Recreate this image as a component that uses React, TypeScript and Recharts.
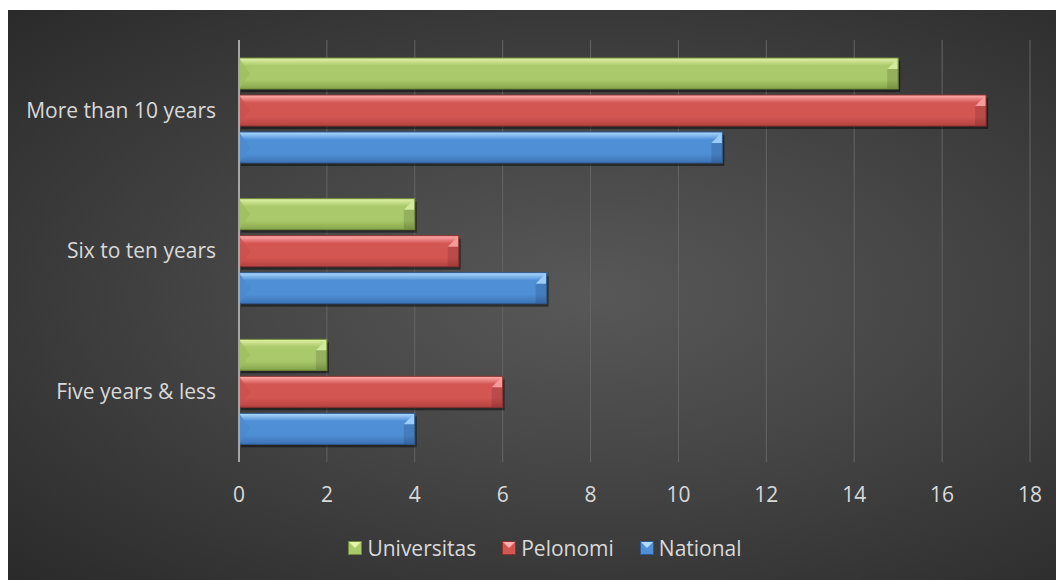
import React from 'react';
import { BarChart, Bar, XAxis, YAxis, CartesianGrid, Legend } from 'recharts';

const categories = ['More than 10 years', 'Six to ten years', 'Five years & less'];
const universitas = [15, 4, 2];
const pelonomi = [17, 5, 6];
const national = [11, 7, 4];
const xTicks = [0, 2, 4, 6, 8, 10, 12, 14, 16, 18];

const data = categories.map((name, i) => ({
  name,
  universitas: universitas[i],
  pelonomi: pelonomi[i],
  national: national[i],
}));

const FONT = '"Open Sans", sans-serif';
const TEXT = '#d9d9d9';

const palette: Record<string, { top: string; mid: string; bot: string; edge: string; left: string; rtop: string }> = {
  universitas: { top: '#e4f3a8', mid: '#a9c96a', bot: '#86a54a', edge: '#6f8a3a', left: '#9fbe60', rtop: '#d2e89a' },
  pelonomi: { top: '#ffb0ae', mid: '#d45653', bot: '#b54340', edge: '#8e3230', left: '#ca514e', rtop: '#f59b99' },
  national: { top: '#b0dcff', mid: '#4f8fd6', bot: '#3d72b5', edge: '#2f5a90', left: '#4c88cc', rtop: '#9ccdf8' },
};

// bar with a simple bevel look, drawn from the coordinates recharts hands in
const BevelBar = (props: any) => {
  const { x, y, width, height, colorKey } = props;
  if (!width || width <= 0) return null;
  const c = palette[colorKey];
  const b = Math.min(11, width / 2);
  const id = `g-${colorKey}`;
  return (
    <g>
      <rect x={x + 2} y={y + 3} width={width} height={height} fill="#000" opacity={0.45} />
      <rect x={x} y={y} width={width} height={height} fill={`url(#${id})`} />
      <polygon points={`${x},${y} ${x + b},${y + height / 2} ${x},${y + height}`} fill={c.left} opacity={0.8} />
      <polygon points={`${x + width},${y} ${x + width - b},${y + b} ${x + width},${y + b}`} fill={c.rtop} />
      <polygon points={`${x + width},${y + b} ${x + width - b},${y + b} ${x + width - b},${y + height} ${x + width},${y + height}`} fill="#000" opacity={0.12} />
      <rect x={x} y={y} width={width} height={height} fill="none" stroke={c.edge} strokeWidth={1} />
    </g>
  );
};

const legendItems = [
  { key: 'universitas', label: 'Universitas' },
  { key: 'pelonomi', label: 'Pelonomi' },
  { key: 'national', label: 'National' },
];

const LegendContent = () => (
  <div style={{ display: 'flex', justifyContent: 'center', alignItems: 'center', height: 30, paddingLeft: 52, fontFamily: FONT, fontSize: 21, color: TEXT }}>
    {legendItems.map((it, i) => {
      const c = palette[it.key];
      return (
        <div key={it.key} style={{ display: 'flex', alignItems: 'center', marginRight: i < legendItems.length - 1 ? 26 : 0 }}>
          <svg width={14} height={14} style={{ marginRight: 5 }}>
            <rect x={0.5} y={0.5} width={13} height={13} fill={c.mid} stroke={c.edge} />
            <polygon points="1,1 13,1 7,7" fill={c.top} />
          </svg>
          <span>{it.label}</span>
        </div>
      );
    })}
  </div>
);

export default function App() {
  return (
    <div
      style={{
        marginTop: 2,
        width: 1056,
        height: 570,
        background: 'radial-gradient(ellipse at 55% 50%, #585858 0%, #474747 40%, #2a2a2a 100%)',
      }}
    >
      <BarChart
        width={1056}
        height={570}
        data={data}
        layout="vertical"
        margin={{ top: 30, right: 34, left: 0, bottom: 17 }}
        barSize={31}
        barGap={6}
        style={{ fontFamily: FONT }}
      >
        <defs>
          {Object.keys(palette).map((k) => (
            <linearGradient key={k} id={`g-${k}`} x1="0" y1="0" x2="0" y2="1">
              <stop offset="0%" stopColor={palette[k].top} />
              <stop offset="25%" stopColor={palette[k].mid} />
              <stop offset="70%" stopColor={palette[k].mid} />
              <stop offset="100%" stopColor={palette[k].bot} />
            </linearGradient>
          ))}
        </defs>
        <CartesianGrid horizontal={false} stroke="#646464" strokeWidth={1} />
        <XAxis
          type="number"
          domain={[0, 18]}
          ticks={xTicks}
          interval={0}
          axisLine={false}
          tickLine={false}
          tickSize={0}
          tickMargin={25}
          height={71}
          tick={{ fill: TEXT, fontSize: 21 }}
        />
        <YAxis
          type="category"
          dataKey="name"
          width={231}
          axisLine={{ stroke: '#a6a6a6', strokeWidth: 2 }}
          tickLine={false}
          tickSize={0}
          tickMargin={23}
          tick={{ fill: TEXT, fontSize: 21 }}
        />
        <Legend verticalAlign="bottom" content={<LegendContent />} />
        <Bar dataKey="universitas" name="Universitas" isAnimationActive={false} shape={<BevelBar colorKey="universitas" />} />
        <Bar dataKey="pelonomi" name="Pelonomi" isAnimationActive={false} shape={<BevelBar colorKey="pelonomi" />} />
        <Bar dataKey="national" name="National" isAnimationActive={false} shape={<BevelBar colorKey="national" />} />
      </BarChart>
    </div>
  );
}
